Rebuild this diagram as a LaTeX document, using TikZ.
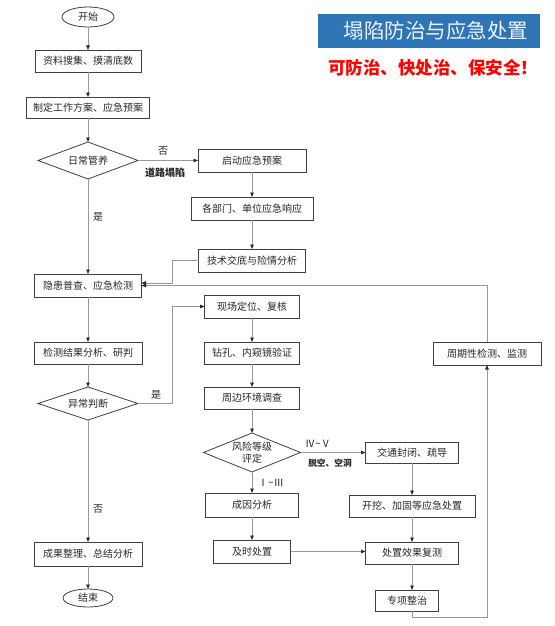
\documentclass[tikz,border=0pt]{standalone}
\usepackage{fontspec}
\setmainfont{Noto Sans CJK SC}
\usepackage{tikz}
\usetikzlibrary{arrows.meta,shapes.geometric}
\definecolor{titleblue}{RGB}{46,117,182}

\begin{document}
\begin{tikzpicture}[x=1pt,y=-1pt,
       box/.style={draw=black!75, line width=0.8pt, rectangle, inner sep=0pt, outer sep=0pt, text=black!85, font=\fontsize{10}{12}\selectfont},
       dia/.style={draw=black!75, line width=0.8pt, diamond, aspect=2.5, inner sep=0pt, outer sep=0pt, text=black!85, align=center, font=\fontsize{10}{12}\selectfont},
       term/.style={draw=black!75, line width=0.8pt, ellipse, inner sep=0pt, outer sep=0pt, text=black!85, font=\fontsize{10}{12}\selectfont},
       conn/.style={draw=black!40, line width=0.8pt, -{Triangle[length=4.5pt,width=3.5pt,color=black!85]}},
       lbl/.style={text=black!85, font=\fontsize{10}{12}\selectfont},
       blbl/.style={text=black!85, font=\fontsize{10}{12}\selectfont\bfseries}]
       \useasboundingbox (0,0) rectangle (554,626);

       \node[fill=titleblue, minimum width=222pt, minimum height=34pt, inner sep=0pt, text=white!92!titleblue, font=\fontsize{20.5}{24}\selectfont] (title) at (429,31) {\hspace*{14pt}塌陷防治与应急处置};
       \node[text=red, font=\fontsize{17.5}{20}\selectfont\bfseries] (slogan) at (433,68) {可防治、快处治、保安全！};

       \node[term, minimum width=52pt, minimum height=20pt] (e1) at (88,17) {开始};
       \node[box, minimum width=106pt, minimum height=22pt] (b1) at (88,61) {资料搜集、摸清底数};
       \node[box, minimum width=123pt, minimum height=21pt] (b2) at (88,107.5) {制定工作方案、应急预案};
       \node[dia, minimum width=100pt, minimum height=37pt] (d1) at (88,160.5) {日常管养};
       \node[box, minimum width=107pt, minimum height=23pt] (b3) at (88,285.5) {隐患普查、应急检测};
       \node[box, minimum width=108pt, minimum height=22pt] (b4) at (88,353) {检测结果分析、研判};
       \node[dia, minimum width=100pt, minimum height=33pt] (d2) at (88,403.5) {异常判断};
       \node[box, minimum width=108pt, minimum height=24pt] (b5) at (88,554) {成果整理、总结分析};
       \node[term, minimum width=50pt, minimum height=18pt] (e2) at (88,598) {结束};

       \node[box, minimum width=108pt, minimum height=23pt] (r1) at (252,160.5) {启动应急预案};
       \node[box, minimum width=122pt, minimum height=23pt] (r2) at (252,208.5) {各部门、单位应急响应};
       \node[box, minimum width=107pt, minimum height=23pt] (r3) at (252,260.5) {技术交底与险情分析};
       \node[box, minimum width=95pt, minimum height=23pt] (m1) at (252,306.5) {现场定位、复核};
       \node[box, minimum width=95pt, minimum height=22pt] (m2) at (252,353) {钻孔、内窥镜验证};
       \node[box, minimum width=95pt, minimum height=22pt] (m3) at (252,398) {周边环境调查};
       \node[dia, minimum width=97pt, minimum height=39pt] (d3) at (252,452.5) {风险等级\\评定};
       \node[box, minimum width=93pt, minimum height=24pt] (m4) at (252,505) {成因分析};
       \node[box, minimum width=77pt, minimum height=23pt] (m5) at (252,551.5) {及时处置};

       \node[box, minimum width=93pt, minimum height=21pt] (n1) at (412,452.5) {交通封闭、疏导};
       \node[box, minimum width=126pt, minimum height=22pt] (n2) at (412,506) {开挖、加固等应急处置};
       \node[box, minimum width=93pt, minimum height=22pt] (n3) at (412,553) {处置效果复测};
       \node[box, minimum width=63pt, minimum height=21pt] (n4) at (407,600.5) {专项整治};
       \node[box, minimum width=108pt, minimum height=23pt] (p1) at (487,353.5) {周期性检测、监测};

       \coordinate (s1) at (172,0);
       \coordinate (s2) at (0,617);

       \draw[conn] (e1) -- (b1);
       \draw[conn] (b1) -- (b2);
       \draw[conn] (b2) -- (d1);
       \draw[conn] (d1) -- (b3);
       \draw[conn] (d1) -- (r1);
       \draw[conn] (r1) -- (r2);
       \draw[conn] (r2) -- (r3);
       \draw[conn] (r3.west) -- (r3.west -| s1) |- ([yshift=2.5pt]b3.east);
       \draw[conn] (b3) -- (b4);
       \draw[conn] (b4) -- (d2);
       \draw[conn] (d2) -- (b5);
       \draw[conn] (b5) -- (e2);
       \draw[conn] (d2.east) -- (d2.east -| s1) |- (m1.west);
       \draw[conn] (m1) -- (m2);
       \draw[conn] (m2) -- (m3);
       \draw[conn] (m3) -- (d3);
       \draw[conn] (d3) -- (m4);
       \draw[conn] (m4) -- (m5);
       \draw[conn] (d3) -- (n1);
       \draw[conn] (n1) -- (n2);
       \draw[conn] (n2) -- (n3);
       \draw[conn] (m5) -- (m5 -| n3.west);
       \draw[conn] (n3.south) -- (n3.south |- n4.north);
       \draw[conn] (n3.south |- n4.south) -- (n3.south |- s2) -| (p1.south);
       \draw[conn] (p1.north) |- (b3.east);

       \node[lbl] (no1) at (163,151) {否};
       \node[blbl] (road) at (165,173) {道路塌陷};
       \node[lbl] (yes1) at (98,217) {是};
       \node[lbl] (yes2) at (156,395) {是};
       \node[lbl] (no2) at (98,509) {否};
       \node[lbl] (lv1) at (271,483) {Ⅰ\textasciitilde Ⅲ};
       \node[lbl] (lv2) at (318,444) {Ⅳ\textasciitilde Ⅴ};
       \node[blbl, font=\fontsize{8.7}{10}\selectfont\bfseries] (void) at (330,463) {脱空、空洞};
      \end{tikzpicture}
\end{document}
